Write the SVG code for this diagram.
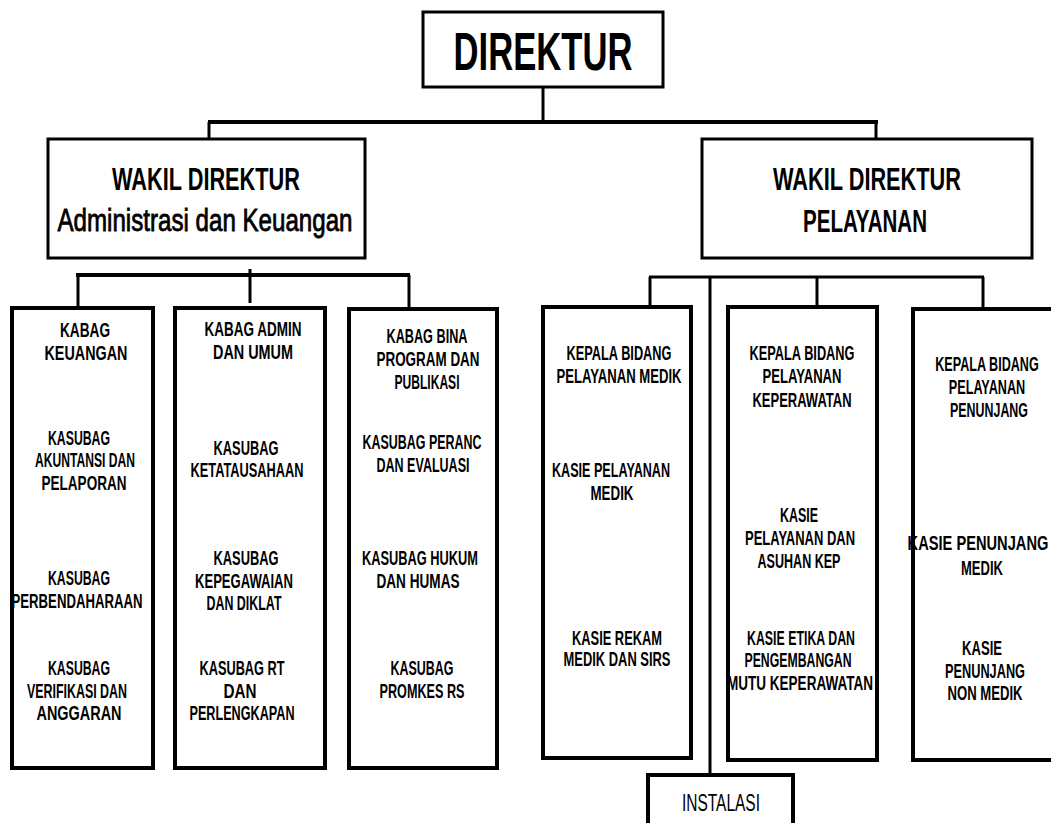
<svg xmlns="http://www.w3.org/2000/svg" width="1051" height="823" viewBox="0 0 1051 823">
<style>
.box{fill:#fff;stroke:#000;stroke-width:3}
.col{fill:#fff;stroke:#000;stroke-width:4}
.ln{stroke:#000;stroke-width:3;fill:none}
text{font-family:"Liberation Sans",Arial,sans-serif;fill:#000;text-anchor:middle}
.t{font-size:21px;font-weight:bold}
.h{font-size:31px;font-weight:bold}
.r{font-size:31px;stroke:#000;stroke-width:0.8}
</style>
<rect width="1051" height="823" fill="#fff"/>
<g id="connectors">
<line class="ln" x1="543" y1="87" x2="543" y2="122"/>
<line class="ln" x1="208" y1="122" x2="878" y2="122" style="stroke-width:4"/>
<line class="ln" x1="209" y1="122" x2="209" y2="139"/>
<line class="ln" x1="876" y1="122" x2="876" y2="139"/>
<line class="ln" x1="76" y1="275" x2="410" y2="275" style="stroke-width:4"/>
<line class="ln" x1="78" y1="275" x2="78" y2="308"/>
<line class="ln" x1="409" y1="275" x2="409" y2="308"/>
<line class="ln" x1="250" y1="269" x2="250" y2="303"/>
<line class="ln" x1="649" y1="277" x2="984" y2="277"/>
<line class="ln" x1="650" y1="277" x2="650" y2="307"/>
<line class="ln" x1="817" y1="277" x2="817" y2="307"/>
<line class="ln" x1="983" y1="277" x2="983" y2="309"/>
<line class="ln" x1="710" y1="277" x2="710" y2="775"/>
</g>
<g id="direktur">
<rect class="box" x="423" y="12" width="240" height="75"/>
<text x="543" y="70" style="font-size:53px;font-weight:bold" textLength="179" lengthAdjust="spacingAndGlyphs">DIREKTUR</text>
</g>
<g id="wadir-admin">
<rect class="box" x="48" y="139" width="317" height="119"/>
<text class="h" x="206" y="190" textLength="188" lengthAdjust="spacingAndGlyphs">WAKIL DIREKTUR</text>
<text class="r" x="205" y="231" textLength="295" lengthAdjust="spacingAndGlyphs">Administrasi dan Keuangan</text>
</g>
<g id="wadir-pelayanan">
<rect class="box" x="702" y="139" width="330" height="119"/>
<text class="h" x="867" y="190" textLength="188" lengthAdjust="spacingAndGlyphs">WAKIL DIREKTUR</text>
<text class="h" x="865" y="232" textLength="124" lengthAdjust="spacingAndGlyphs">PELAYANAN</text>
</g>
<g id="kabag-keuangan">
<rect class="col" x="12" y="308" width="141" height="460"/>
<text class="t" x="85" y="337" textLength="50" lengthAdjust="spacingAndGlyphs">KABAG</text>
<text class="t" x="86" y="360" textLength="83" lengthAdjust="spacingAndGlyphs">KEUANGAN</text>
<text class="t" x="79" y="445" textLength="62" lengthAdjust="spacingAndGlyphs">KASUBAG</text>
<text class="t" x="85" y="467" textLength="100" lengthAdjust="spacingAndGlyphs">AKUNTANSI DAN</text>
<text class="t" x="84" y="490" textLength="85" lengthAdjust="spacingAndGlyphs">PELAPORAN</text>
<text class="t" x="79" y="585" textLength="62" lengthAdjust="spacingAndGlyphs">KASUBAG</text>
<text class="t" x="77" y="608" textLength="131" lengthAdjust="spacingAndGlyphs">PERBENDAHARAAN</text>
<text class="t" x="79" y="675" textLength="62" lengthAdjust="spacingAndGlyphs">KASUBAG</text>
<text class="t" x="77" y="698" textLength="100" lengthAdjust="spacingAndGlyphs">VERIFIKASI DAN</text>
<text class="t" x="79" y="720" textLength="85" lengthAdjust="spacingAndGlyphs">ANGGARAN</text>
</g>
<g id="kabag-admin">
<rect class="col" x="175" y="308" width="150" height="460"/>
<text class="t" x="253" y="336" textLength="97" lengthAdjust="spacingAndGlyphs">KABAG ADMIN</text>
<text class="t" x="253" y="359" textLength="80" lengthAdjust="spacingAndGlyphs">DAN UMUM</text>
<text class="t" x="246" y="455" textLength="65" lengthAdjust="spacingAndGlyphs">KASUBAG</text>
<text class="t" x="247" y="477" textLength="113" lengthAdjust="spacingAndGlyphs">KETATAUSAHAAN</text>
<text class="t" x="246" y="565" textLength="65" lengthAdjust="spacingAndGlyphs">KASUBAG</text>
<text class="t" x="244" y="588" textLength="98" lengthAdjust="spacingAndGlyphs">KEPEGAWAIAN</text>
<text class="t" x="244" y="610" textLength="75" lengthAdjust="spacingAndGlyphs">DAN DIKLAT</text>
<text class="t" x="242" y="675" textLength="85" lengthAdjust="spacingAndGlyphs">KASUBAG RT</text>
<text class="t" x="240" y="698" textLength="33" lengthAdjust="spacingAndGlyphs">DAN</text>
<text class="t" x="242" y="720" textLength="105" lengthAdjust="spacingAndGlyphs">PERLENGKAPAN</text>
</g>
<g id="kabag-bina">
<rect class="col" x="349" y="309" width="148" height="459"/>
<text class="t" x="427" y="343" textLength="81" lengthAdjust="spacingAndGlyphs">KABAG BINA</text>
<text class="t" x="428" y="366" textLength="103" lengthAdjust="spacingAndGlyphs">PROGRAM DAN</text>
<text class="t" x="427" y="389" textLength="65" lengthAdjust="spacingAndGlyphs">PUBLIKASI</text>
<text class="t" x="422" y="449" textLength="119" lengthAdjust="spacingAndGlyphs">KASUBAG PERANC</text>
<text class="t" x="423" y="472" textLength="93" lengthAdjust="spacingAndGlyphs">DAN EVALUASI</text>
<text class="t" x="420" y="565" textLength="116" lengthAdjust="spacingAndGlyphs">KASUBAG HUKUM</text>
<text class="t" x="418" y="588" textLength="83" lengthAdjust="spacingAndGlyphs">DAN HUMAS</text>
<text class="t" x="422" y="675" textLength="63" lengthAdjust="spacingAndGlyphs">KASUBAG</text>
<text class="t" x="422" y="698" textLength="85" lengthAdjust="spacingAndGlyphs">PROMKES RS</text>
</g>
<g id="bidang-medik">
<rect class="col" x="543" y="307" width="148" height="451"/>
<text class="t" x="619" y="360" textLength="105" lengthAdjust="spacingAndGlyphs">KEPALA BIDANG</text>
<text class="t" x="619" y="383" textLength="125" lengthAdjust="spacingAndGlyphs">PELAYANAN MEDIK</text>
<text class="t" x="611" y="477" textLength="118" lengthAdjust="spacingAndGlyphs">KASIE PELAYANAN</text>
<text class="t" x="612" y="500" textLength="43" lengthAdjust="spacingAndGlyphs">MEDIK</text>
<text class="t" x="617" y="645" textLength="90" lengthAdjust="spacingAndGlyphs">KASIE REKAM</text>
<text class="t" x="617" y="666" textLength="107" lengthAdjust="spacingAndGlyphs">MEDIK DAN SIRS</text>
</g>
<g id="bidang-keperawatan">
<rect class="col" x="728" y="307" width="149" height="453"/>
<text class="t" x="802" y="360" textLength="105" lengthAdjust="spacingAndGlyphs">KEPALA BIDANG</text>
<text class="t" x="802" y="383" textLength="79" lengthAdjust="spacingAndGlyphs">PELAYANAN</text>
<text class="t" x="802" y="407" textLength="99" lengthAdjust="spacingAndGlyphs">KEPERAWATAN</text>
<text class="t" x="799" y="522" textLength="38" lengthAdjust="spacingAndGlyphs">KASIE</text>
<text class="t" x="800" y="545" textLength="110" lengthAdjust="spacingAndGlyphs">PELAYANAN DAN</text>
<text class="t" x="799" y="568" textLength="83" lengthAdjust="spacingAndGlyphs">ASUHAN KEP</text>
<text class="t" x="801" y="645" textLength="108" lengthAdjust="spacingAndGlyphs">KASIE ETIKA DAN</text>
<text class="t" x="798" y="667" textLength="107" lengthAdjust="spacingAndGlyphs">PENGEMBANGAN</text>
<text class="t" x="800" y="690" textLength="146" lengthAdjust="spacingAndGlyphs">MUTU KEPERAWATAN</text>
</g>
<g id="bidang-penunjang">
<path d="M1053,309 H913 V760 H1053" style="fill:#fff;stroke:#000;stroke-width:4"/>
<text class="t" transform="translate(987,371) scale(0.6,1)">KEPALA BIDANG</text>
<text class="t" transform="translate(987,394) scale(0.604,1)">PELAYANAN</text>
<text class="t" transform="translate(989,417) scale(0.592,1)">PENUNJANG</text>
<text class="t" transform="translate(978,550) scale(0.698,1)">KASIE PENUNJANG</text>
<text class="t" transform="translate(982,575) scale(0.62,1)">MEDIK</text>
<text class="t" transform="translate(982,655) scale(0.623,1)">KASIE</text>
<text class="t" transform="translate(985,678) scale(0.607,1)">PENUNJANG</text>
<text class="t" transform="translate(985,700) scale(0.624,1)">NON MEDIK</text>
</g>
<g id="instalasi">
<path d="M648,830 V775 H793 V830" style="fill:#fff;stroke:#000;stroke-width:4"/>
<text x="721" y="811" style="font-size:23px" textLength="78" lengthAdjust="spacingAndGlyphs">INSTALASI</text>
</g>
</svg>
